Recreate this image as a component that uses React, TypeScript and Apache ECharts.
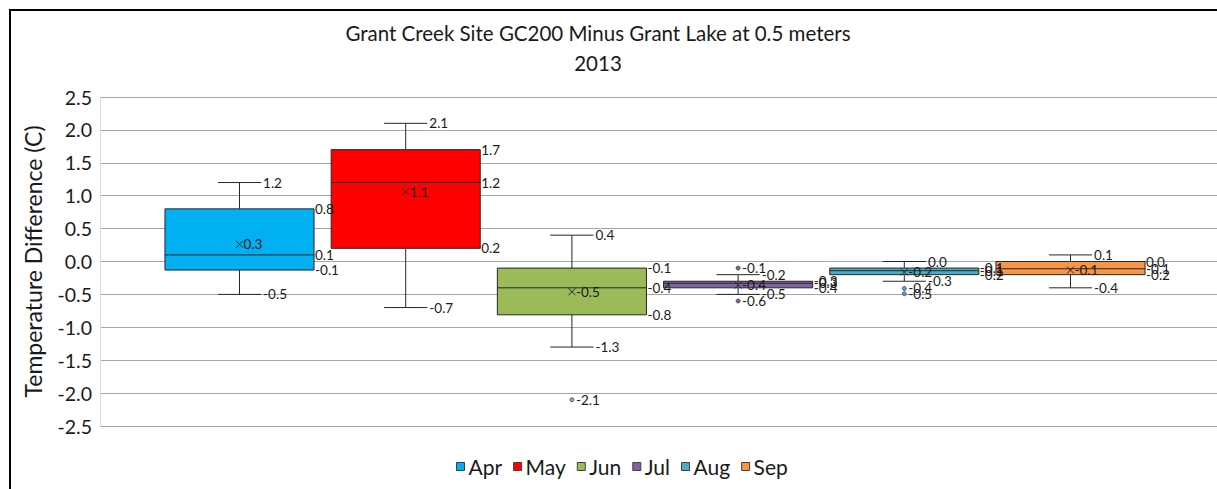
import React, { useEffect, useRef } from "react";
import * as echarts from "echarts";

const categories = ["Apr", "May", "Jun", "Jul", "Aug", "Sep"];
const colors = ["#00b0f0", "#ff0000", "#9bbb59", "#8064a2", "#4bacc6", "#f79646"];
const maxVals = [1.2, 2.1, 0.4, -0.2, 0.0, 0.1];
const q3Vals = [0.8, 1.7, -0.1, -0.3, -0.1, 0.0];
const medianVals = [0.1, 1.2, -0.4, -0.33, -0.14, -0.11];
const q1Vals = [-0.13, 0.2, -0.81, -0.4, -0.2, -0.2];
const minVals = [-0.5, -0.7, -1.3, -0.5, -0.3, -0.4];
const meanVals = [0.26, 1.06, -0.46, -0.36, -0.16, -0.13];
const outliers: number[][] = [[], [], [-2.1], [-0.1, -0.6], [-0.41, -0.49], []];
const yMin = -2.5;
const yMax = 2.5;
const yInterval = 0.5;

const fmt = (v: number) => {
  const s = v.toFixed(1);
  return s === "-0.0" ? "0.0" : s;
};

const FONT = "Lato";
const TXT = "#1a1a1a";

function makeRender(i: number) {
  return (params: any, api: any) => {
    const idx = api.value(0);
    const pt = (v: number) => api.coord([idx, v]);
    const band = api.size([1, 0])[0];
    const boxW = band * 0.897;
    const capW = band * 0.26;
    const [cx, yMaxP] = pt(api.value(5));
    const yQ3 = pt(api.value(4))[1];
    const yMed = pt(api.value(3))[1];
    const yQ1 = pt(api.value(2))[1];
    const yMinP = pt(api.value(1))[1];
    const yMean = pt(api.value(6))[1];
    const left = cx - boxW / 2;
    const right = cx + boxW / 2;
    const lineStyle = { stroke: "#262626", lineWidth: 1 };
    const label = (text: string, x: number, y: number) => ({
      type: "text",
      style: { text, x, y, fill: TXT, fontSize: 13.5, fontFamily: FONT, align: "left", verticalAlign: "middle" },
      z2: 10,
    });
    const children: any[] = [
      { type: "line", shape: { x1: cx, y1: yQ3, x2: cx, y2: yMaxP }, style: lineStyle },
      { type: "line", shape: { x1: cx, y1: yQ1, x2: cx, y2: yMinP }, style: lineStyle },
      { type: "line", shape: { x1: cx - capW / 2, y1: yMaxP, x2: cx + capW / 2, y2: yMaxP }, style: lineStyle },
      { type: "line", shape: { x1: cx - capW / 2, y1: yMinP, x2: cx + capW / 2, y2: yMinP }, style: lineStyle },
      {
        type: "rect",
        shape: { x: left, y: yQ3, width: boxW, height: yQ1 - yQ3 },
        style: { fill: colors[i], stroke: "#262626", lineWidth: 1 },
      },
      { type: "line", shape: { x1: left, y1: yMed, x2: right, y2: yMed }, style: lineStyle },
      { type: "line", shape: { x1: cx - 3.5, y1: yMean - 3.5, x2: cx + 3.5, y2: yMean + 3.5 }, style: lineStyle, z2: 5 },
      { type: "line", shape: { x1: cx - 3.5, y1: yMean + 3.5, x2: cx + 3.5, y2: yMean - 3.5 }, style: lineStyle, z2: 5 },
    ];
    outliers[i].forEach((o) => {
      const y = pt(o)[1];
      children.push({
        type: "circle",
        shape: { cx, cy: y, r: 2 },
        style: { fill: colors[i], stroke: "#404040", lineWidth: 0.8 },
      });
      children.push(label(fmt(o), cx + 4, y));
    });
    children.push(label(fmt(api.value(5)), cx + capW / 2 + 2, yMaxP));
    children.push(label(fmt(api.value(1)), cx + capW / 2 + 2, yMinP));
    children.push(label(fmt(api.value(4)), right + 1, yQ3));
    children.push(label(fmt(api.value(3)), right + 1, yMed));
    children.push(label(fmt(api.value(2)), right + 1, yQ1));
    children.push(label(fmt(api.value(6)), cx + 4, yMean));
    return { type: "group", children };
  };
}

export default function App() {
  const ref = useRef<HTMLDivElement>(null);
  useEffect(() => {
    document.body.style.margin = "0";
    const chart = echarts.init(ref.current!, undefined, { renderer: "svg" });
    const series: any[] = categories.map((name, i) => ({
      name,
      type: "custom",
      xAxisIndex: 1,
      yAxisIndex: 1,
      itemStyle: { color: colors[i] },
      renderItem: makeRender(i),
      encode: { x: 0, y: [1, 2, 3, 4, 5] },
      data: [[i, minVals[i], q1Vals[i], medianVals[i], q3Vals[i], maxVals[i], meanVals[i]]],
    }));
    chart.setOption({
      animation: false,
      textStyle: { fontFamily: FONT },
      title: {
        text: "Grant Creek Site GC200 Minus Grant Lake at 0.5 meters\n2013",
        left: 593,
        textAlign: "center",
        top: 13,
        textStyle: { fontSize: 20.5, fontWeight: "normal", color: TXT, lineHeight: 30, fontFamily: FONT },
      },
      legend: {
        data: categories,
        left: 451,
        top: 451,
        icon: "rect",
        itemWidth: 8,
        itemHeight: 8,
        itemGap: 11,
        itemStyle: { borderColor: "#404040", borderWidth: 1 },
        textStyle: { fontSize: 21, color: TXT, fontFamily: FONT, padding: [0, 0, 0, -1] },
      },
      grid: [
        { left: 100, right: 0, top: 97, bottom: 63 },
        { left: 156.4, width: 997.2, top: 97, bottom: 63 },
      ],
      xAxis: [
        { type: "value", gridIndex: 0, show: false, min: 0, max: 1 },
        {
          type: "category",
          gridIndex: 1,
          data: categories,
          show: false,
          boundaryGap: true,
        },
      ],
      yAxis: [
        {
          type: "value",
          gridIndex: 0,
          min: yMin,
          max: yMax,
          interval: yInterval,
          name: "Temperature Difference (C)",
          nameLocation: "middle",
          nameGap: 56,
          nameTextStyle: { fontSize: 23, color: TXT, fontFamily: FONT },
          axisLine: { show: true, lineStyle: { color: "#d9d9d9" } },
          axisTick: { show: false },
          axisLabel: { fontSize: 19.5, color: TXT, margin: 8, formatter: (v: number) => fmt(v), fontFamily: FONT },
          splitLine: { lineStyle: { color: "#a6a6a6", width: 1 } },
        },
        { type: "value", gridIndex: 1, min: yMin, max: yMax, interval: yInterval, show: false, splitLine: { show: false } },
      ],
      graphic: [
        { type: "line", shape: { x1: 9, y1: 10, x2: 1217, y2: 10 }, style: { stroke: "#000", lineWidth: 2 } },
        { type: "line", shape: { x1: 10, y1: 9, x2: 10, y2: 489 }, style: { stroke: "#000", lineWidth: 2 } },
      ],
      series,
    });
    return () => chart.dispose();
  }, []);
  return <div ref={ref} style={{ width: 1217, height: 489 }} />;
}
